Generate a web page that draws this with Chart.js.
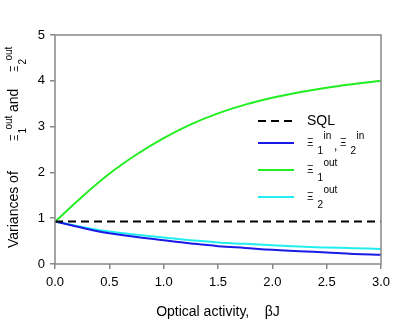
<!DOCTYPE html>
<html>
<head>
<meta charset="utf-8">
<script src="https://cdn.jsdelivr.net/npm/chart.js@4/dist/chart.umd.min.js"></script>
<style>
  html, body { margin: 0; padding: 0; background: #fff; }
  #wrap { width: 400px; height: 321px; }
</style>
</head>
<body>
<div id="wrap"><canvas id="chart" width="400" height="321"></canvas></div>
<script>
// Data
const betaJ = [0, 0.25, 0.5, 0.75, 1.0, 1.25, 1.5, 1.75, 2.0, 2.25, 2.5, 2.75, 3.0];
const sqlLevel = [0.93, 0.93, 0.93, 0.93, 0.93, 0.93, 0.93, 0.93, 0.93, 0.93, 0.93, 0.93, 0.93];
const xiIn = [0.93, 0.79, 0.67, 0.59, 0.52, 0.45, 0.39, 0.35, 0.31, 0.28, 0.25, 0.22, 0.20];
const xi1Out = [0.92, 1.47, 1.97, 2.39, 2.75, 3.05, 3.29, 3.48, 3.63, 3.75, 3.85, 3.93, 4.0];
const xi2Out = [0.93, 0.81, 0.71, 0.64, 0.58, 0.52, 0.47, 0.44, 0.41, 0.38, 0.36, 0.345, 0.33];

const xTicks = [0, 0.5, 1.0, 1.5, 2.0, 2.5, 3.0];
const yTicks = [0, 1, 2, 3, 4, 5];

const FONT = '"Liberation Sans", Arial, sans-serif';
const frameColor = '#888888';

function toPoints(vals) {
    return betaJ.map((x, i) => ({ x: x, y: vals[i] }));
}

// Xi with a subscript and a superscript, returns the end x
function drawXi(ctx, x, y, sub, sup, o) {
    ctx.textBaseline = 'middle';
    ctx.textAlign = 'left';
    ctx.font = '10px ' + FONT;
    ctx.fillText('\u039E', x, y);
    const w = ctx.measureText('\u039E').width;
    ctx.fillText(sub, x + w + o.subDx, y + o.subDy);
    ctx.fillText(sup, x + w + o.supDx, y + o.supDy);
    return x + w + o.supDx + ctx.measureText(sup).width;
}

const legendXi = { subDx: 4, subDy: 8, supDx: 10, supDy: -7 };

const decorations = {
    id: 'decorations',
    afterDraw(chart) {
        const ctx = chart.ctx;
        const a = chart.chartArea;
        ctx.save();

        // frame
        ctx.strokeStyle = frameColor;
        ctx.lineWidth = 1.5;
        ctx.strokeRect(a.left, a.top, a.right - a.left, a.bottom - a.top);

        // legend
        ctx.fillStyle = '#000';
        const lx0 = 258, lx1 = 294, tx = 307;
        const items = [
            { y: 121, color: '#000000', dash: [8, 5] },
            { y: 143, color: '#1a1ae6', dash: [] },
            { y: 170, color: '#22ee22', dash: [] },
            { y: 197, color: '#22eeee', dash: [] }
        ];
        items.forEach(it => {
            ctx.strokeStyle = it.color;
            ctx.lineWidth = 2;
            ctx.setLineDash(it.dash);
            ctx.beginPath();
            ctx.moveTo(lx0, it.y);
            ctx.lineTo(lx1, it.y);
            ctx.stroke();
        });
        ctx.setLineDash([]);
        ctx.font = '14px ' + FONT;
        ctx.textBaseline = 'middle';
        ctx.textAlign = 'left';
        ctx.fillText('SQL', tx, 121);
        drawXi(ctx, tx, 143, '1', 'in', legendXi);
        ctx.font = '12px ' + FONT;
        ctx.fillText(',', 334, 147);
        drawXi(ctx, 340, 143, '2', 'in', legendXi);
        drawXi(ctx, tx, 170, '1', 'out', legendXi);
        drawXi(ctx, tx, 197, '2', 'out', legendXi);

        // y axis title (rotated, with sub/superscripts)
        ctx.translate(14, 149);
        ctx.rotate(-Math.PI / 2);
        ctx.font = '14px ' + FONT;
        ctx.fillText('Variances of', -99, 0);
        const titleXi = { subDx: 1, subDy: 8, supDx: 5, supDy: -6 };
        drawXi(ctx, 8, 1, '1', 'out', titleXi);
        ctx.font = '14px ' + FONT;
        ctx.fillText('and', 37, 0);
        drawXi(ctx, 77, 1, '2', 'out', titleXi);

        ctx.restore();
    }
};

const ctx = document.getElementById('chart').getContext('2d');
const chart = new Chart(ctx, {
    type: 'line',
    data: {
        datasets: [
            {
                label: 'SQL',
                data: toPoints(sqlLevel),
                borderColor: '#000000',
                borderWidth: 2,
                borderDash: [8, 5],
                pointRadius: 0
            },
            {
                label: 'Xi1 in, Xi2 in',
                data: toPoints(xiIn),
                borderColor: '#1a1ae6',
                borderWidth: 2,
                pointRadius: 0,
                tension: 0.4
            },
            {
                label: 'Xi2 out',
                data: toPoints(xi2Out),
                borderColor: '#22eeee',
                borderWidth: 2,
                pointRadius: 0,
                tension: 0.4
            },
            {
                label: 'Xi1 out',
                data: toPoints(xi1Out),
                borderColor: '#22ee22',
                borderWidth: 2,
                pointRadius: 0,
                tension: 0.4
            }
        ]
    },
    options: {
        responsive: false,
        animation: false,
        layout: { padding: { top: 35, right: 19, left: 0, bottom: 0 } },
        plugins: {
            legend: { display: false },
            tooltip: { enabled: false }
        },
        scales: {
            x: {
                type: 'linear',
                min: 0,
                max: 3,
                afterBuildTicks: (s) => { s.ticks = xTicks.map(v => ({ value: v })); },
                afterFit: (s) => { s.height = 57; },
                border: { display: false },
                grid: { drawOnChartArea: false, tickLength: 5, color: frameColor, lineWidth: 1.5 },
                ticks: {
                    color: '#000',
                    font: { family: FONT, size: 13 },
                    padding: 6,
                    maxRotation: 0,
                    callback: (v) => Number(v).toFixed(1)
                },
                title: {
                    display: true,
                    text: 'Optical activity,    \u03B2J',
                    color: '#000',
                    font: { family: FONT, size: 14 },
                    padding: { top: 9, bottom: 0 }
                }
            },
            y: {
                min: 0,
                max: 5,
                afterBuildTicks: (s) => { s.ticks = yTicks.map(v => ({ value: v })); },
                afterFit: (s) => { s.width = 55; },
                border: { display: false },
                grid: { drawOnChartArea: false, tickLength: 5, color: frameColor, lineWidth: 1.5 },
                ticks: {
                    color: '#000',
                    font: { family: FONT, size: 13 },
                    padding: 5
                }
            }
        }
    },
    plugins: [decorations]
});
</script>
</body>
</html>
